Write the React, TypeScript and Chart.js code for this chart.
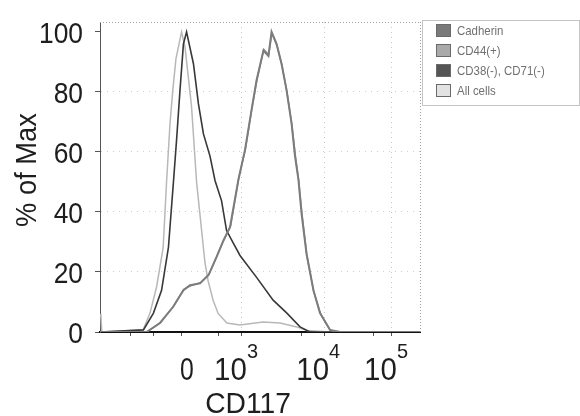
import { useEffect, useRef } from 'react';
import { Chart, registerables } from 'chart.js';

Chart.register(...registerables);

const FONT = "'Liberation Sans', Arial, sans-serif";

// Display channel (0-1024) vs % of Max
const seriesLabels = ['Cadherin', 'CD44(+)', 'CD38(-), CD71(-)', 'All cells'];
const legendFill = ['#7a7a7a', '#a9a9a9', '#555555', '#e2e2e2'];
const lineColors = ['#7c7c7c', '#939393', '#383838', '#b8b8b8'];
const lineWidths = [2, 1.5, 1.6, 1.5];

const cadherinX = [0, 149, 192, 234, 267, 288, 320, 347, 373, 395, 416, 443, 464, 485, 501, 523, 539, 549, 565, 581, 597, 613, 624, 635, 645, 661, 683, 704, 736, 768, 1024];
const cadherinY = [0, 0, 3, 8.4, 13.9, 15.6, 16.2, 18.9, 25, 30.5, 34.9, 50.8, 60.7, 74, 83.9, 93.8, 92, 100, 96, 89.4, 80.6, 69.5, 58.6, 50.8, 39.4, 26, 13.9, 6.3, 0.7, 0, 0];

const cd44X = [0, 150, 194, 236, 268, 290, 322, 349, 375, 397, 418, 444, 466, 486, 503, 524, 540, 550, 566, 582, 598, 614, 626, 636, 647, 662, 684, 706, 737, 770, 1024];
const cd44Y = [0, 0, 3.2, 8.6, 14.2, 15.4, 16.5, 19.3, 25.4, 30.8, 35.3, 51.3, 61.2, 74.4, 84.4, 94.2, 92.5, 99.5, 95.5, 88.9, 80.1, 69.0, 58.1, 50.3, 38.9, 25.5, 13.4, 6.0, 0.6, 0, 0];

const cd38X = [0, 139, 171, 197, 219, 235, 245, 256, 267, 277, 299, 315, 331, 352, 368, 389, 405, 427, 448, 501, 554, 598, 640, 672, 1024];
const cd38Y = [0, 0.7, 6.3, 13.9, 28.2, 50, 64, 80.6, 96, 100, 89.4, 76, 66, 58.6, 50.5, 43.7, 33.8, 29.5, 25.5, 18.2, 10.6, 6.3, 1.7, 0, 0];

const allCellsX = [0, 3, 6, 138, 160, 181, 202, 213, 224, 233, 243, 261, 272, 293, 309, 336, 346, 362, 378, 406, 448, 522, 576, 630, 662, 736, 1024];
const allCellsY = [6, 5, 0, 0.7, 6.3, 15, 28, 50, 69.5, 80.6, 91, 100, 95, 75, 50, 23, 17, 10.6, 6.2, 3, 2.3, 3.3, 3, 1.7, 0.5, 0, 0];

const seriesX = [cadherinX, cd44X, cd38X, allCellsX];
const seriesY = [cadherinY, cd44Y, cd38Y, allCellsY];

const xTickValues = [96, 170, 262, 378, 454, 646, 717, 874, 934];
const xTickLabels = ['', '', '0', '', '10^3', '', '10^4', '', '10^5'];
const xGridValues = [454, 717, 934];
const yTickValues = [0, 20, 40, 60, 80, 100];
const yGridValues = [20, 40, 60, 80];

const xTitle = 'CD117';
const yTitle = '% of Max';

function txt(ctx: CanvasRenderingContext2D, s: string, x: number, y: number, size: number, align: CanvasTextAlign, sx = 0.9) {
  ctx.save();
  ctx.translate(x, y);
  ctx.scale(sx, 1);
  ctx.font = `${size}px ${FONT}`;
  ctx.textAlign = align;
  ctx.fillText(s, 0, 0);
  ctx.restore();
}

const overlay = {
  id: 'overlay',
  afterDraw(chart: any) {
    const ctx = chart.ctx as CanvasRenderingContext2D;
    const xs = chart.scales.x;
    const ys = chart.scales.y;
    const area = chart.chartArea;
    ctx.save();
    // frame top/right dotted
    ctx.strokeStyle = '#a0a0a0';
    ctx.lineWidth = 1;
    ctx.setLineDash([1, 2]);
    ctx.beginPath();
    ctx.moveTo(area.left, area.top + 0.5);
    ctx.lineTo(area.right, area.top + 0.5);
    ctx.moveTo(area.right + 0.5, area.top);
    ctx.lineTo(area.right + 0.5, area.bottom);
    ctx.stroke();
    ctx.setLineDash([]);

    ctx.fillStyle = '#1e1e1e';
    ctx.textBaseline = 'alphabetic';

    // y tick labels
    ys.ticks.forEach((t: any) => {
      const py = ys.getPixelForValue(t.value);
      txt(ctx, String(t.value), 83, py + 11, 30, 'right', 0.88);
    });

    // x tick labels with superscripts
    xTickValues.forEach((v, i) => {
      const lab = xTickLabels[i];
      if (!lab) return;
      const px = xs.getPixelForValue(v);
      if (lab.includes('^')) {
        const [b, e] = lab.split('^');
        txt(ctx, b, px + 5, 380, 31, 'right', 0.95);
        txt(ctx, e, px + 5, 358, 21, 'left', 0.95);
      } else {
        txt(ctx, lab, px + 5, 380, 31, 'center', 0.8);
      }
    });

    // axis titles
    txt(ctx, xTitle, 248, 413, 30, 'center', 0.94);
    ctx.save();
    ctx.translate(36, 170);
    ctx.rotate(-Math.PI / 2);
    txt(ctx, yTitle, 0, 0, 30, 'center', 0.91);
    ctx.restore();

    // legend
    const lx = 422.5, ly = 20.5, lw = 157, lh = 85;
    ctx.strokeStyle = '#8a8a8a';
    ctx.setLineDash([1, 1]);
    ctx.strokeRect(lx, ly, lw, lh);
    ctx.setLineDash([]);
    ctx.textBaseline = 'middle';
    seriesLabels.forEach((lab, i) => {
      const cy = 30.5 + i * 20;
      ctx.fillStyle = legendFill[i];
      ctx.fillRect(436, cy - 6.5, 15, 13);
      ctx.strokeStyle = '#6a6a6a';
      ctx.strokeRect(436.5, cy - 6, 14, 12);
      ctx.fillStyle = '#707070';
      txt(ctx, lab, 457, cy + 1, 13, 'left', 0.88);
    });
    ctx.restore();
  },
};

export default function App() {
  const ref = useRef<HTMLCanvasElement | null>(null);
  useEffect(() => {
    document.body.style.margin = '0';
    if (!ref.current) return;
    const datasets = seriesLabels.map((lab, i) => ({
      label: lab,
      data: seriesX[i].map((x, j) => ({ x, y: seriesY[i][j] })),
      borderColor: lineColors[i],
      borderWidth: lineWidths[i],
      pointRadius: 0,
      tension: 0,
      fill: false,
    }));
    const chart = new Chart(ref.current, {
      type: 'line',
      data: { datasets },
      options: {
        animation: false,
        responsive: false,
        devicePixelRatio: 1,
        layout: { padding: { left: 0, right: 160, top: 22, bottom: 0 } },
        plugins: { legend: { display: false }, tooltip: { enabled: false } },
        scales: {
          x: {
            type: 'linear',
            min: 0,
            max: 1024,
            afterFit: (s: any) => { s.height = 84; },
            afterBuildTicks: (s: any) => { s.ticks = xTickValues.map((v) => ({ value: v })); },
            ticks: { display: false, autoSkip: false },
            grid: {
              color: (c: any) => (c.tick && xGridValues.includes(c.tick.value) ? 'rgba(160,160,160,0.6)' : 'rgba(0,0,0,0)'),
              tickColor: '#555',
              tickLength: 4,
              tickBorderDash: [],
            },
            border: { color: '#111', width: 2, dash: [1, 4] },
          },
          y: {
            type: 'linear',
            min: 0,
            max: 103.3,
            afterFit: (s: any) => { s.width = 100; },
            afterBuildTicks: (s: any) => { s.ticks = yTickValues.map((v) => ({ value: v })); },
            ticks: { display: false },
            grid: {
              color: (c: any) => (c.tick && yGridValues.includes(c.tick.value) ? 'rgba(160,160,160,0.5)' : 'rgba(0,0,0,0)'),
              tickColor: '#555',
              tickLength: 5,
              tickBorderDash: [],
            },
            border: { color: '#555', width: 1, dash: [1, 5] },
          },
        },
      },
      plugins: [overlay],
    });
    return () => chart.destroy();
  }, []);
  return <canvas ref={ref} width={580} height={416} style={{ display: 'block' }} />;
}
